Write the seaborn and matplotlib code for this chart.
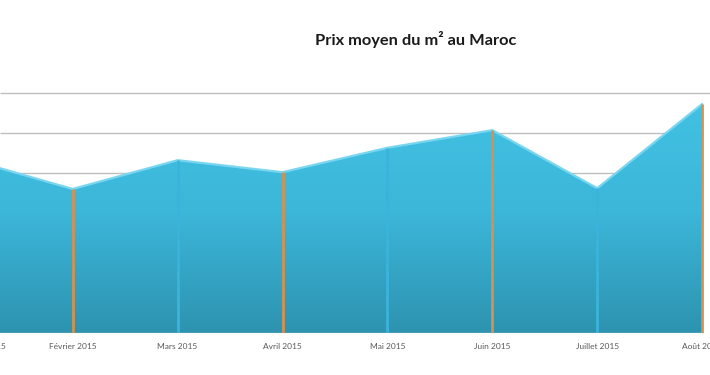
import numpy as np
import pandas as pd
import matplotlib
matplotlib.use("Agg")
import matplotlib.pyplot as plt
import seaborn as sns
from matplotlib.patches import Polygon
from matplotlib.colors import LinearSegmentedColormap

months = ["Janvier 2015", "Février 2015", "Mars 2015", "Avril 2015",
          "Mai 2015", "Juin 2015", "Juillet 2015", "Août 2015"]
prices = [4350, 3600, 4320, 4020, 4630, 5070, 3620, 5725]
line_colors = ["#3AB4DC", "#D4924E", "#3AB4DC", "#D4924E",
               "#3AB4DC", "#D4924E", "#3AB4DC", "#D4924E"]
title = "Prix moyen du m² au Maroc"

sns.set_theme(style="white")
plt.rcParams['font.family'] = ['Lato', 'DejaVu Sans']

df = pd.DataFrame({"pos": np.arange(len(months)), "mois": months, "prix": prices})

fig = plt.figure(figsize=(7.10, 3.75), dpi=100)
ax = fig.add_axes([0.0, 42 / 375, 1.0, 240 / 375])

x = df["pos"].to_numpy(dtype=float)
y = df["prix"].to_numpy(dtype=float)

XLIM = (0.307, 7.075)
YLIM = (0, 6000)

# top edge
sns.lineplot(data=df, x="pos", y="prix", ax=ax, color="#78D6F0", lw=1.6,
             zorder=3, legend=False)

# gridlines
for g in range(1000, 6001, 1000):
    xmax = XLIM[1] if g > y[-1] else x[-1]
    ax.hlines(g, XLIM[0], xmax, color="#BFBFBF", lw=1.0, zorder=0, clip_on=False)

# gradient fill clipped to the area
verts = np.vstack([[x[0], 0], np.column_stack([x, y]), [x[-1], 0]])
poly = Polygon(verts, closed=True, facecolor="none", edgecolor="none")
ax.add_patch(poly)
grad = np.linspace(0, 1, 256).reshape(-1, 1)
cmap = LinearSegmentedColormap.from_list("g", ["#2D93B0", "#3CB6D9", "#42C2E4"])
im = ax.imshow(grad, extent=[x[0], x[-1], 0, 6000], origin="lower",
               aspect="auto", cmap=cmap, zorder=1)
im.set_clip_path(poly)

# vertical drop lines
for xi, yi, c in zip(x, y, line_colors):
    ax.plot([xi, xi], [0, yi], color=c, lw=2.0, zorder=4, solid_capstyle="butt")

ax.hlines(0, XLIM[0], x[-1], color="#AFC3CA", lw=1.0, zorder=2)

ax.set_xticks(x)
ax.set_xticklabels([""] + months[1:], fontsize=6, color="#595959")
ax.tick_params(axis="x", length=0, pad=7)
ax.set_yticks([])
ax.set_xlabel("")
ax.set_ylabel("")
for s in ax.spines.values():
    s.set_visible(False)

ax.set_xlim(*XLIM)
ax.set_ylim(*YLIM)

# first label sits partly off the left edge as in the reference
ax.annotate(months[0], xy=(x[0], 0), xycoords=("data", "axes fraction"),
            xytext=(10, -7), textcoords="offset points", ha="center", va="top",
            fontsize=6, color="#595959", annotation_clip=False)

fig.text(415.5 / 710, 1 - 40 / 375, title, ha="center", va="center",
         fontsize=11.8, fontweight="bold", color="#1A1A1A")

fig.savefig("out.png", dpi=100)
